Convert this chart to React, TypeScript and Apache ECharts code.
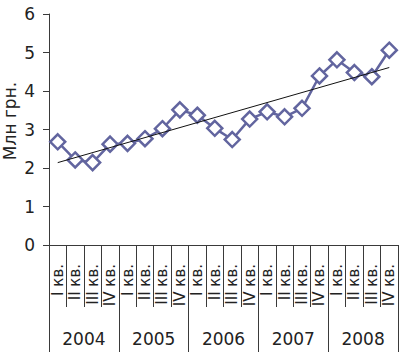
import React, { useEffect, useRef } from "react";
import * as echarts from "echarts";

const years = ["2004", "2005", "2006", "2007", "2008"];
const quarterNames = ["I", "II", "III", "IV"];
const values = [2.68, 2.21, 2.14, 2.62, 2.64, 2.76, 3.02, 3.51, 3.37, 3.03, 2.74, 3.27, 3.46, 3.33, 3.55, 4.39, 4.81, 4.48, 4.37, 5.06];
const trendStart = 2.14;
const trendEnd = 4.61;
const yName = "Млн грн.";

const categories: string[] = [];
years.forEach((y) => quarterNames.forEach((q) => categories.push(q + " кв.")));

export default function App() {
  const ref = useRef<HTMLDivElement>(null);
  useEffect(() => {
    if (!ref.current) return;
    const chart = echarts.init(ref.current, null, { renderer: "svg" });
    const font = "DejaVu Sans";
    const axisColor = "#3a3a3a";
    chart.setOption({
      animation: false,
      grid: { left: 49, right: 2, top: 14, bottom: 112, containLabel: false },
      graphic: [
        {
          type: "text",
          x: 10,
          y: 121,
          rotation: Math.PI / 2,
          style: { text: yName, fontSize: 17, fontFamily: font, fill: "#222", align: "center", verticalAlign: "middle" },
        },
      ],
      xAxis: [
        {
          type: "category",
          data: categories,
          boundaryGap: true,
          position: "bottom",
          axisLine: { show: true, lineStyle: { color: axisColor, width: 1 } },
          axisTick: { show: true, interval: 0, length: 62, lineStyle: { color: axisColor, width: 1 } },
          axisLabel: {
            interval: 0,
            rotate: 90,
            margin: 19,
            fontSize: 15,
            fontFamily: font,
            color: "#222",
          },
        },
        {
          type: "category",
          data: years,
          boundaryGap: true,
          position: "bottom",
          axisLine: { show: false },
          axisTick: { show: true, interval: 0, length: 107, lineStyle: { color: axisColor, width: 1 } },
          axisLabel: { interval: 0, margin: 85, fontSize: 17, fontFamily: font, color: "#222" },
        },
      ],
      yAxis: {
        type: "value",
        min: 0,
        max: 6,
        interval: 1,
        axisLine: { show: true, lineStyle: { color: axisColor, width: 1 } },
        axisTick: { show: true, length: 6, lineStyle: { color: axisColor } },
        axisLabel: { fontSize: 17, margin: 14, fontFamily: font, color: "#222" },
        splitLine: { show: false },
      },
      series: [
        {
          type: "line",
          data: values,
          xAxisIndex: 0,
          symbol: "diamond",
          symbolSize: 15,
          itemStyle: { color: "#ffffff", borderColor: "#62659f", borderWidth: 2.5 },
          lineStyle: { color: "#62659f", width: 2.5 },
          markLine: {
            silent: true,
            symbol: "none",
            label: { show: false },
            lineStyle: { color: "#111", width: 1, type: "solid" },
            data: [[{ coord: [0, trendStart] }, { coord: [19, trendEnd] }]],
          },
          z: 3,
        },
      ],
    });
    return () => chart.dispose();
  }, []);
  return <div ref={ref} style={{ width: 400, height: 357, position: "absolute", left: 0, top: 0 }} />;
}
